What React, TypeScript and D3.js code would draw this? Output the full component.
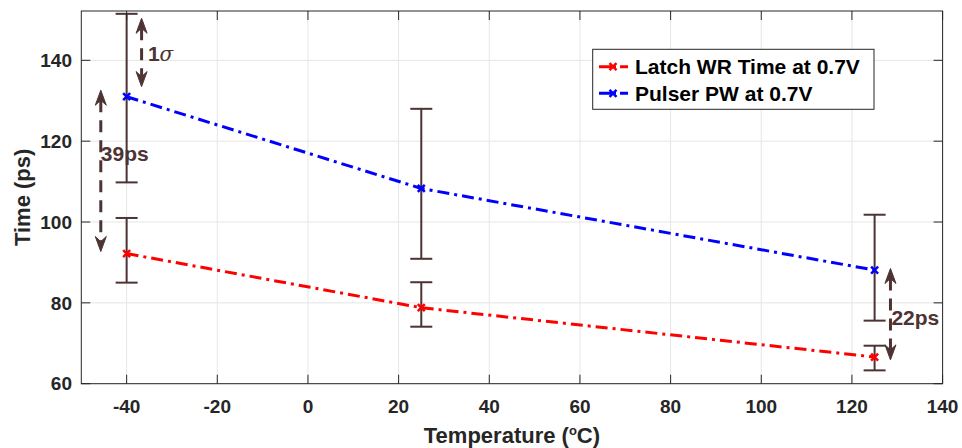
import React from "react";
import * as d3 from "d3";

const temps = [-40, 25, 125];
const latch = [92.2, 78.8, 66.6];
const latchHi = [101.0, 85.1, 69.4];
const latchLo = [85.0, 74.1, 63.3];
const pulser = [131.0, 108.3, 88.1];
const pulserHi = [151.5, 128.0, 101.8];
const pulserLo = [109.8, 90.9, 75.6];
const xTicks = [-40, -20, 0, 20, 40, 60, 80, 100, 120, 140];
const yTicks = [60, 80, 100, 120, 140];
const legendLabels = ["Latch WR Time at 0.7V", "Pulser PW at 0.7V"];

// annotations in data units: [x, yTop, yBottom]
const sigmaArrow = [-36.7, 150.4, 133.5];
const arrow39 = [-45.7, 132.6, 92.7];
const arrow22 = [128.5, 88.5, 65.9];
const sigmaText = [-35.3, 141.7];
const text39 = [-45.7, 116.8];
const text22 = [128.7, 76.3];

const W = 962, H = 448;
const L = 81.3, R = 942.6, T = 11, B = 383.7;
const FONT = "'Liberation Sans', Arial, sans-serif";
const AX = "#262626";
const BROWN = "#4d3333";

export default function App() {
  const x = d3.scaleLinear().domain([-50, 140]).range([L, R]);
  const y = d3.scaleLinear().domain([60, 152.2]).range([B, T]);
  const line = d3.line<number>().x((_, i) => x(temps[i])).y((d) => y(d));
  const dash = "12 5 3 5";
  const tick = 9;

  const series = [
    { vals: latch, hi: latchHi, lo: latchLo, color: "#ff0000" },
    { vals: pulser, hi: pulserHi, lo: pulserLo, color: "#0000ff" },
  ];

  const xMark = (cx: number, cy: number, color: string, key: string) => (
    <path key={key} d={`M${cx - 3.5},${cy - 3.5}L${cx + 3.5},${cy + 3.5}M${cx - 3.5},${cy + 3.5}L${cx + 3.5},${cy - 3.5}`} stroke={color} strokeWidth={2.5} fill="none" />
  );

  const arrow = (a: number[], key: string) => {
    const ax = x(a[0]);
    const t = y(a[1]);
    const b = y(a[2]);
    return (
      <g key={key}>
        <line x1={ax} x2={ax} y1={t + 10} y2={b - 10} stroke={BROWN} strokeWidth={3} strokeDasharray="12 8" />
        <path d={`M${ax},${t}L${ax - 5.5},${t + 15}L${ax},${t + 10}L${ax + 5.5},${t + 15}Z`} fill={BROWN} stroke={BROWN} strokeWidth={1} strokeLinejoin="round" />
        <path d={`M${ax},${b}L${ax - 5.5},${b - 15}L${ax},${b - 10}L${ax + 5.5},${b - 15}Z`} fill={BROWN} stroke={BROWN} strokeWidth={1} strokeLinejoin="round" />
      </g>
    );
  };

  return (
    <svg width={W} height={H} style={{ position: "absolute", left: 0, top: 0, background: "#fff" }} fontFamily={FONT}>
      <rect x={0} y={0} width={W} height={H} fill="#fff" />
      {xTicks.map((t) => (
        <line key={"gx" + t} x1={x(t)} x2={x(t)} y1={T} y2={B} stroke="#e6e6e6" strokeWidth={1} />
      ))}
      {yTicks.map((t) => (
        <line key={"gy" + t} x1={L} x2={R} y1={y(t)} y2={y(t)} stroke="#e6e6e6" strokeWidth={1} />
      ))}
      {series.map((s, si) =>
        temps.map((tv, i) => {
          const cx = x(tv);
          return (
            <g key={`eb${si}-${i}`} stroke={BROWN} strokeWidth={2}>
              <line x1={cx} x2={cx} y1={y(s.hi[i])} y2={y(s.lo[i])} />
              <line x1={cx - 11} x2={cx + 11} y1={y(s.hi[i])} y2={y(s.hi[i])} />
              <line x1={cx - 11} x2={cx + 11} y1={y(s.lo[i])} y2={y(s.lo[i])} />
            </g>
          );
        })
      )}
      {series.map((s, si) => (
        <g key={"s" + si}>
          <path d={line(s.vals) || ""} fill="none" stroke={s.color} strokeWidth={3} strokeDasharray={dash} />
          {s.vals.map((v, i) => xMark(x(temps[i]), y(v), s.color, `m${si}-${i}`))}
        </g>
      ))}
      <rect x={L} y={T} width={R - L} height={B - T} fill="none" stroke={AX} strokeWidth={1} />
      {xTicks.map((t) => (
        <g key={"tx" + t} stroke={AX}>
          <line x1={x(t)} x2={x(t)} y1={B} y2={B - tick} />
          <line x1={x(t)} x2={x(t)} y1={T} y2={T + tick} />
        </g>
      ))}
      {yTicks.map((t) => (
        <g key={"ty" + t} stroke={AX}>
          <line x1={L} x2={L + tick} y1={y(t)} y2={y(t)} />
          <line x1={R} x2={R - tick} y1={y(t)} y2={y(t)} />
        </g>
      ))}
      {xTicks.map((t) => (
        <text key={"lx" + t} x={x(t)} y={413} textAnchor="middle" fontSize={19} fontWeight="bold" fill={AX}>
          {t}
        </text>
      ))}
      {yTicks.map((t) => (
        <text key={"ly" + t} x={72} y={y(t)} dy="0.35em" textAnchor="end" fontSize={19} fontWeight="bold" fill={AX}>
          {t}
        </text>
      ))}
      <text x={(L + R) / 2} y={443} textAnchor="middle" fontSize={22} fontWeight="bold" fill={AX}>
        Temperature (<tspan fontSize={13} dy={-8}>o</tspan><tspan dy={8}>C)</tspan>
      </text>
      <text transform={`translate(30,${(T + B) / 2}) rotate(-90)`} textAnchor="middle" fontSize={22} fontWeight="bold" fill={AX}>
        Time (ps)
      </text>
      {arrow(sigmaArrow, "a1")}
      {arrow(arrow39, "a2")}
      {arrow(arrow22, "a3")}
      <text x={x(sigmaText[0])} y={y(sigmaText[1])} dy="0.35em" fill={BROWN} fontSize={21}>
        <tspan fontWeight="bold">1</tspan>
        <tspan fontStyle="italic" fontFamily="'DejaVu Serif', serif" fontSize={20}>σ</tspan>
      </text>
      <text x={x(text39[0])} y={y(text39[1])} dy="0.35em" fill={BROWN} fontSize={21} fontWeight="bold">39ps</text>
      <text x={x(text22[0])} y={y(text22[1])} dy="0.35em" fill={BROWN} fontSize={21} fontWeight="bold">22ps</text>
      <rect x={592.7} y={49.3} width={281.3} height={60} fill="#fff" stroke={AX} strokeWidth={1} />
      {series.map((s, i) => {
        const cy = 66.7 + i * 26.6;
        return (
          <g key={"lg" + i}>
            <line x1={599} x2={632} y1={cy} y2={cy} stroke={s.color} strokeWidth={3} strokeDasharray="17 4 8 4" />
            {xMark(613, cy, s.color, "lm" + i)}
            <text x={635} y={cy} dy="0.35em" fontSize={21} fontWeight="bold" fill="#000">
              {legendLabels[i]}
            </text>
          </g>
        );
      })}
    </svg>
  );
}
